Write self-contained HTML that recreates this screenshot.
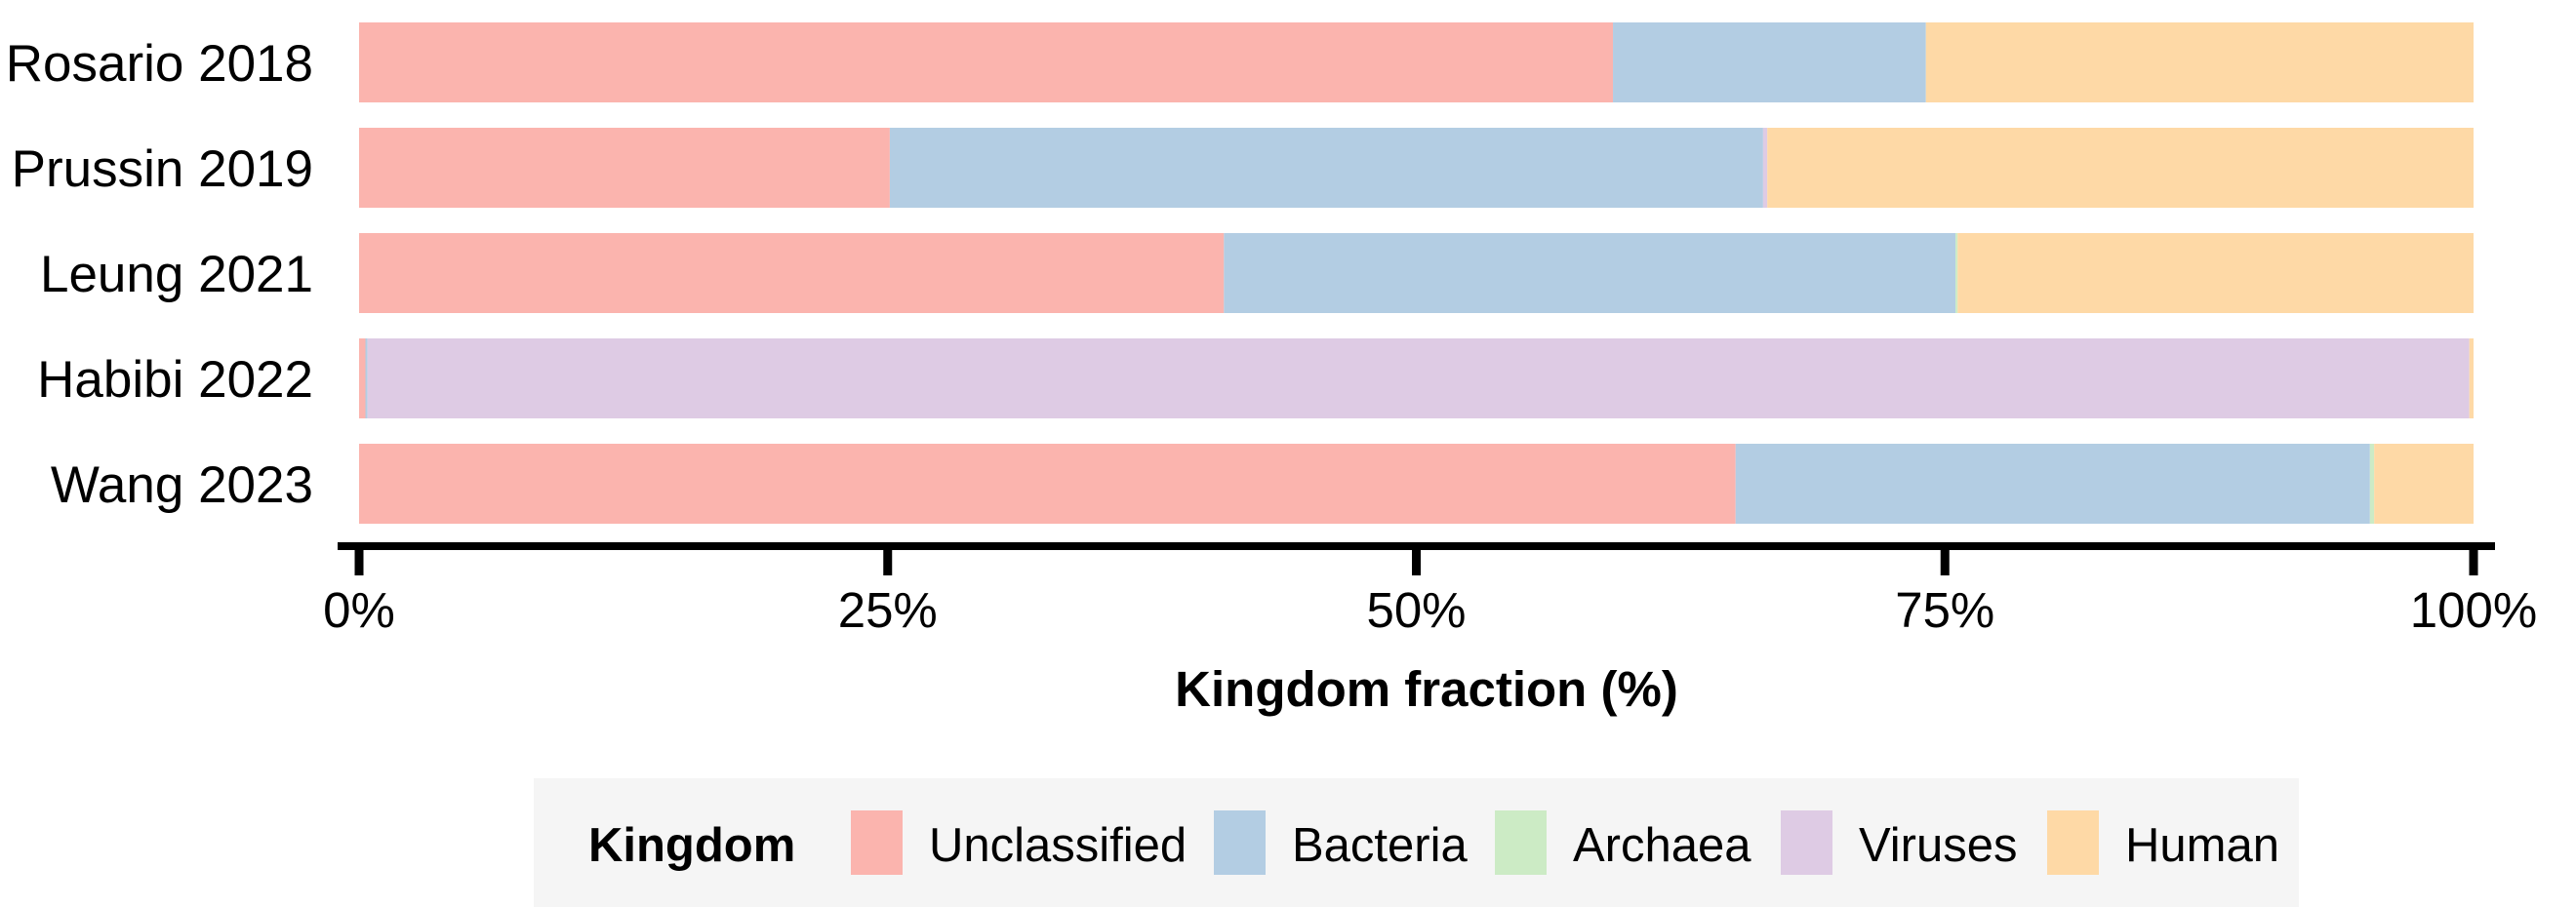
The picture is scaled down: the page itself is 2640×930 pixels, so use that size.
<!DOCTYPE html>
<html><head><meta charset="utf-8"><style>
html,body{margin:0;padding:0;background:#fff;width:2640px;height:930px;overflow:hidden}
svg text{font-family:"Liberation Sans",sans-serif;fill:#000}
</style></head><body>
<svg id="chart" width="2640" height="930" xmlns="http://www.w3.org/2000/svg">
<g id="bars"></g>
<g id="yaxis"></g>
<g id="xaxis"></g>
<text x="1462" y="724" font-size="51" font-weight="bold" text-anchor="middle">Kingdom fraction (%)</text>
<g id="legend">
<rect x="547" y="798" width="1809" height="132" fill="#f5f5f5"/>
<text x="603" y="883" font-size="49" font-weight="bold">Kingdom</text>
</g>
</svg>
<script>
const studies = ["Rosario 2018","Prussin 2019","Leung 2021","Habibi 2022","Wang 2023"];
const kingdoms = ["Unclassified","Bacteria","Archaea","Viruses","Human"];
const unclassified = [59.3, 25.1, 40.9, 0.3, 65.1];
const bacteria = [14.8, 41.3, 34.6, 0.1, 30.0];
const archaea = [0.0, 0.0, 0.1, 0.0, 0.2];
const viruses = [0.0, 0.2, 0.0, 99.4, 0.0];
const human = [25.9, 33.4, 24.4, 0.2, 4.7];
const xTicks = [0, 25, 50, 75, 100];
const xTickLabels = ["0%","25%","50%","75%","100%"];

const colors = ["#FBB4AE","#B3CDE3","#CCEBC5","#DECBE4","#FED9A6"];
const series = [unclassified, bacteria, archaea, viruses, human];
const NS = "http://www.w3.org/2000/svg";
const x0 = 368, x1 = 2535;
function xScale(v){ return x0 + (v/100)*(x1-x0); }
const bandTop = 23, bandStep = 108, barH = 82;
function yScale(i){ return bandTop + i*bandStep; }
function mk(tag, attrs, parent){ const e=document.createElementNS(NS,tag); for(const k in attrs) e.setAttribute(k,attrs[k]); parent.appendChild(e); return e; }

const gB = document.getElementById('bars');
studies.forEach((s,i)=>{
  let cum = 0;
  series.forEach((arr,k)=>{
    const v = arr[i];
    if (v > 0) {
      const r = mk('rect',{x:xScale(cum),y:yScale(i),width:Math.max(0,xScale(cum+v)-xScale(cum)),height:barH,fill:colors[k]},gB);
      
      
    }
    cum += v;
  });
});
const gY = document.getElementById('yaxis');
studies.forEach((s,i)=>{
  const t = mk('text',{x:321,y:yScale(i)+barH/2+19,'font-size':53,'text-anchor':'end'},gY);
  t.textContent = s;
  
  
});
const gX = document.getElementById('xaxis');
const ax = mk('rect',{x:346,y:556,width:2211,height:8,fill:'#000'},gX);


xTicks.forEach((v,i)=>{
  const tk = mk('rect',{x:xScale(v)-4.5,y:560,width:9,height:30,fill:'#000'},gX);
  
  
  const t = mk('text',{x:xScale(v),y:643,'font-size':51,'text-anchor':'middle'},gX);
  t.textContent = xTickLabels[i];
  
  
});
const gL = document.getElementById('legend');
const swX = [872, 1244, 1532, 1825, 2098];
kingdoms.forEach((k,i)=>{
  const r = mk('rect',{x:swX[i],y:831,width:53,height:66,fill:colors[i]},gL);
  
  
  const t = mk('text',{x:swX[i]+80,y:883,'font-size':49},gL);
  t.textContent = k;
  
  
});
</script>
</body></html>
